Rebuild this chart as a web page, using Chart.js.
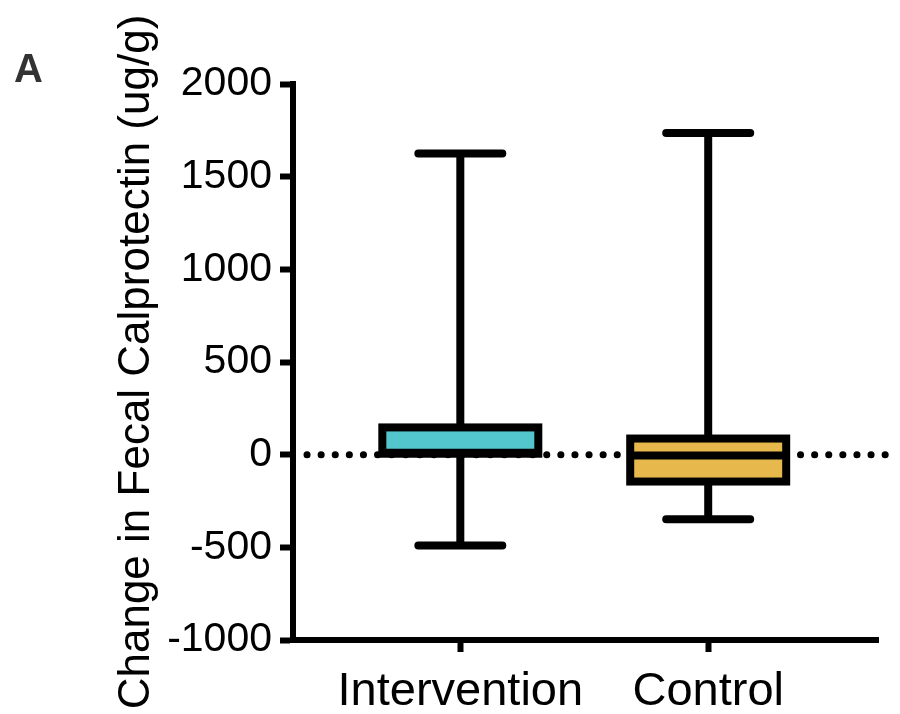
<!DOCTYPE html>
<html>
<head>
<meta charset="utf-8">
<script src="https://cdn.jsdelivr.net/npm/chart.js@4.4.1/dist/chart.umd.min.js"></script>
<style>
  body { margin: 0; background: #fff; }
  #wrap { position: relative; width: 900px; height: 714px; }
  #panel { position: absolute; left: 14px; top: 48px; font: bold 40px "Liberation Sans", Arial, sans-serif; line-height: 40px; color: #333; }
</style>
</head>
<body>
<div id="wrap">
  <canvas id="chart" width="900" height="714"></canvas>
  <div id="panel">A</div>
</div>
<script>
// box plot summary per group (ug/g)
const groups = ["Intervention", "Control"];
const mins = [-490, -348];
const q1s = [5, -145];
const medians = [10, -4];
const q3s = [147, 87];
const maxs = [1625, 1736];
const boxColors = ["#52c5cd", "#e7b84b"];
const yTicks = [-1000, -500, 0, 500, 1000, 1500, 2000];

const FONT = '"Liberation Sans", Arial, sans-serif';
const LINE = 8;
const CAP_HALF = 42;

const boxPlot = {
    id: "boxPlot",
    beforeDatasetsDraw(chart) {
        const ctx = chart.ctx;
        const x = chart.scales.x;
        const y = chart.scales.y;
        const area = chart.chartArea;

        // dotted zero line
        const y0 = y.getPixelForValue(0);
        ctx.save();
        ctx.strokeStyle = "#000";
        ctx.lineWidth = 7;
        ctx.lineCap = "round";
        ctx.setLineDash([0.1, 14]);
        ctx.beginPath();
        ctx.moveTo(area.left + 14, y0);
        ctx.lineTo(area.right + 16, y0);
        ctx.stroke();
        ctx.restore();

        // whiskers and caps
        ctx.save();
        ctx.strokeStyle = "#000";
        ctx.lineWidth = LINE;
        groups.forEach((g, i) => {
            const px = x.getPixelForValue(i);
            const top = y.getPixelForValue(maxs[i]);
            const bot = y.getPixelForValue(mins[i]);
            ctx.lineCap = "butt";
            ctx.beginPath();
            ctx.moveTo(px, top);
            ctx.lineTo(px, bot);
            ctx.stroke();
            ctx.lineCap = "round";
            ctx.beginPath();
            ctx.moveTo(px - CAP_HALF, top);
            ctx.lineTo(px + CAP_HALF, top);
            ctx.moveTo(px - CAP_HALF, bot);
            ctx.lineTo(px + CAP_HALF, bot);
            ctx.stroke();
        });
        ctx.restore();
    },
    afterDatasetsDraw(chart) {
        const ctx = chart.ctx;
        const x = chart.scales.x;
        const y = chart.scales.y;
        const meta = chart.getDatasetMeta(0);
        ctx.save();
        ctx.strokeStyle = "#000";
        ctx.lineWidth = LINE;
        ctx.lineCap = "butt";
        groups.forEach((g, i) => {
            const bar = meta.data[i];
            const half = bar.width / 2;
            const px = x.getPixelForValue(i);
            const t = y.getPixelForValue(q3s[i]);
            const b = y.getPixelForValue(q1s[i]);
            const m = y.getPixelForValue(medians[i]);
            ctx.strokeRect(px - half, t, half * 2, b - t);
            ctx.beginPath();
            ctx.moveTo(px - half, m);
            ctx.lineTo(px + half, m);
            ctx.stroke();
        });
        ctx.restore();
    }
};

new Chart(document.getElementById("chart"), {
    type: "bar",
    data: {
        datasets: [{
            data: groups.map((g, i) => ({ x: i, y: [q1s[i], q3s[i]] })),
            backgroundColor: boxColors,
            borderWidth: 0,
            barThickness: 156
        }]
    },
    options: {
        responsive: false,
        animation: false,
        layout: { padding: { left: 115, right: 22, top: 84, bottom: 0 } },
        plugins: { legend: { display: false }, tooltip: { enabled: false } },
        scales: {
            x: {
                type: "linear",
                offset: false,
                min: -0.675,
                max: 1.685,
                afterBuildTicks: (s) => { s.ticks = [{ value: 0 }, { value: 1 }]; },
                afterFit: (s) => { s.height = 74; },
                grid: { offset: false, drawOnChartArea: false, tickLength: 12, tickWidth: 6, tickColor: "#000" },
                border: { color: "#000", width: 6 },
                ticks: {
                    callback: (v) => groups[v],
                    color: "#000",
                    padding: 12,
                    maxRotation: 0,
                    autoSkip: false,
                    font: { family: FONT, size: 47 }
                }
            },
            y: {
                min: -1000,
                max: 2000,
                afterBuildTicks: (s) => { s.ticks = yTicks.map(v => ({ value: v })); },
                afterFit: (s) => { s.width = 178; },
                grid: { drawOnChartArea: false, tickLength: 13, tickWidth: 6, tickColor: "#000" },
                border: { color: "#000", width: 6 },
                ticks: {
                    callback: (v) => String(v),
                    color: "#000",
                    padding: 8,
                    font: { family: FONT, size: 41 }
                },
                title: {
                    display: true,
                    text: "Change in Fecal Calprotectin (ug/g)",
                    color: "#000",
                    padding: 0,
                    font: { family: FONT, size: 44, lineHeight: 1 }
                }
            }
        }
    },
    plugins: [boxPlot]
});
</script>
</body>
</html>
